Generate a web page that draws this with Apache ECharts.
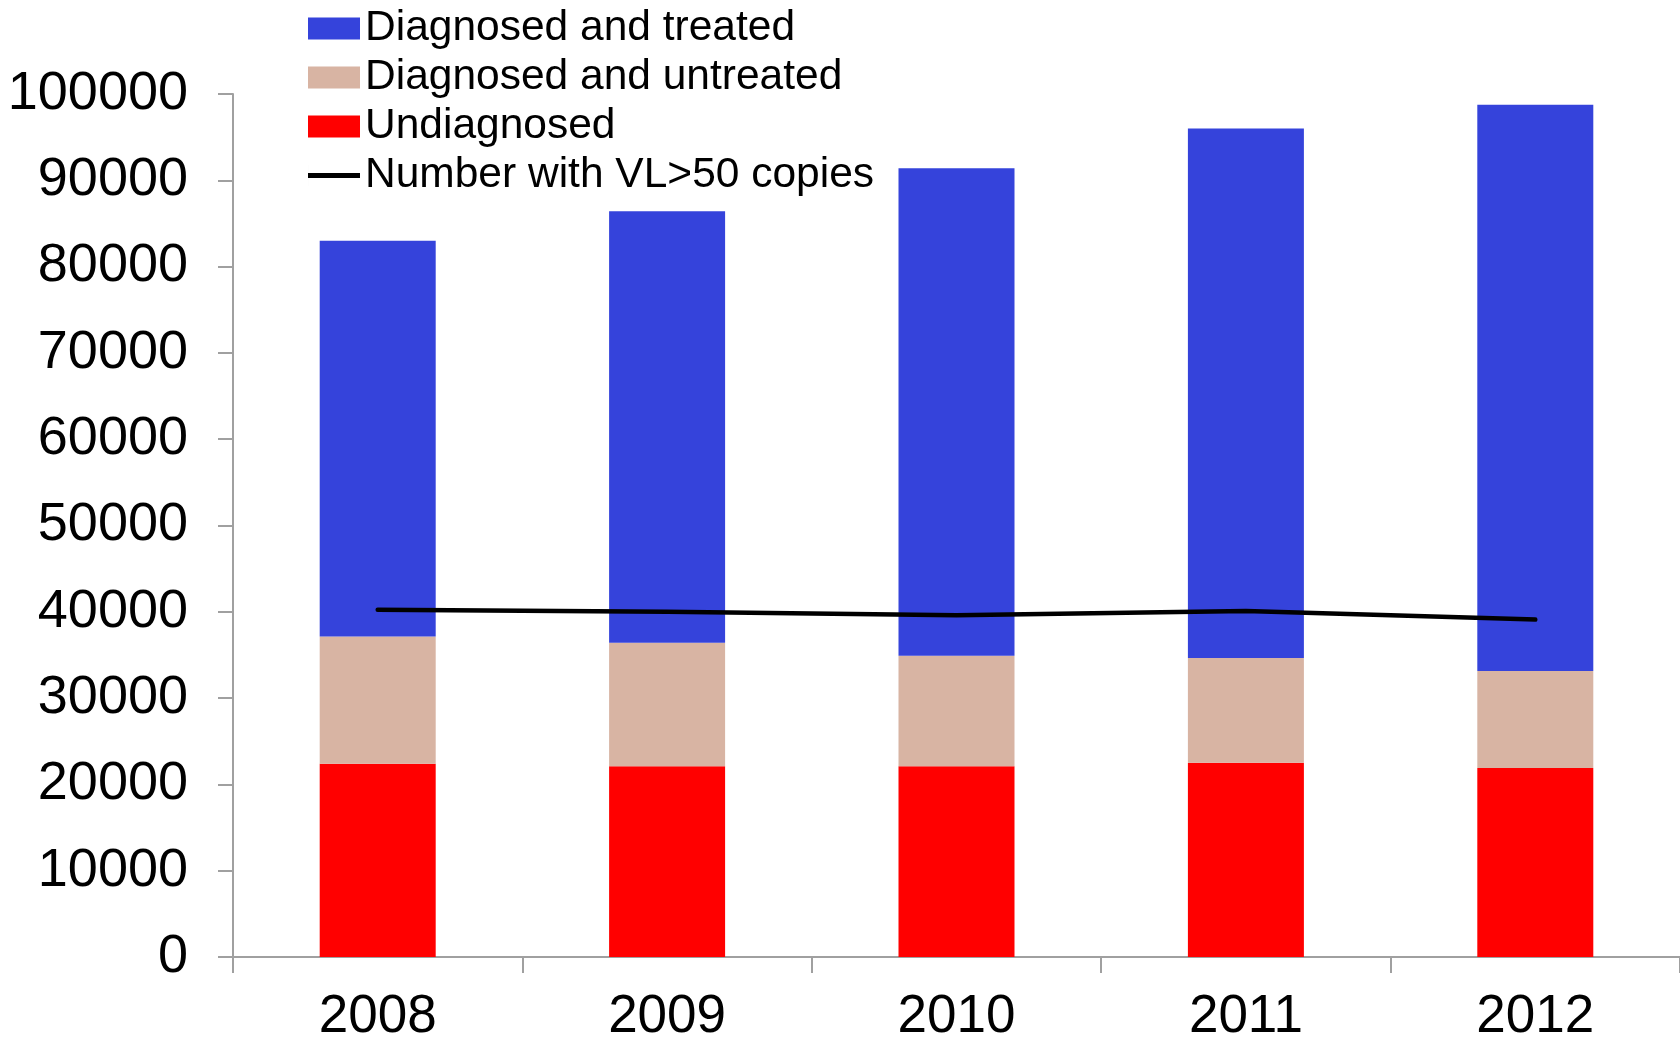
<!DOCTYPE html>
<html>
<head>
<meta charset="utf-8">
<script src="https://cdn.jsdelivr.net/npm/echarts@6/dist/echarts.min.js"></script>
<style>
  html, body { margin: 0; padding: 0; background: #ffffff; }
  #chart { width: 1680px; height: 1042px; }
</style>
</head>
<body>
<div id="chart"></div>
<script>
// People living with HIV, by diagnosis/treatment status
const years = ['2008', '2009', '2010', '2011', '2012'];
const undiagnosed = [22400, 22100, 22100, 22500, 21900];
const diagnosedUntreated = [14750, 14300, 12800, 12150, 11250];
const diagnosedTreated = [45850, 50000, 56500, 61350, 65600];
const vlOver50 = [40250, 40000, 39600, 40100, 39100];

const FONT = '"Liberation Sans", Arial, sans-serif';
const AXIS_GREY = '#a0a0a0';

// Legend key for the line series: a thick horizontal stroke centred in a 52x22 box
// (the hairline at x=0 only fixes the path's bounding box to the full key height).
const LINE_KEY = 'path://M0,0 L0.01,0 L0.01,22 L0,22 Z M0,8.5 L52,8.5 L52,13.5 L0,13.5 Z';

const chart = echarts.init(document.getElementById('chart'), null, { renderer: 'canvas' });

chart.setOption({
  animation: false,
  backgroundColor: '#ffffff',
  textStyle: { fontFamily: FONT },
  grid: { left: 233, right: 0, top: 94, bottom: 85, containLabel: false, outerBoundsMode: 'none' },
  legend: {
    orient: 'vertical',
    left: 308,
    top: 7,
    padding: 0,
    itemWidth: 52,
    itemHeight: 22,
    itemGap: 6,
    textStyle: { fontFamily: FONT, fontSize: 42.5, color: '#000000', lineHeight: 42 },
    data: [
      { name: 'Diagnosed and treated', icon: 'rect' },
      { name: 'Diagnosed and untreated', icon: 'rect' },
      { name: 'Undiagnosed', icon: 'rect' },
      { name: 'Number with VL>50 copies', icon: LINE_KEY, itemStyle: { color: '#000000' } }
    ]
  },
  xAxis: {
    type: 'category',
    data: years,
    boundaryGap: true,
    axisLine: { lineStyle: { color: AXIS_GREY, width: 2 } },
    axisTick: { show: true, length: 16, lineStyle: { color: AXIS_GREY, width: 2 } },
    axisLabel: { fontFamily: FONT, fontSize: 53, color: '#000000', margin: 34 }
  },
  yAxis: {
    type: 'value',
    min: 0,
    max: 100000,
    interval: 10000,
    axisLine: { show: true, lineStyle: { color: AXIS_GREY, width: 2 } },
    axisTick: { show: true, length: 15, lineStyle: { color: AXIS_GREY, width: 2 } },
    splitLine: { show: false },
    axisLabel: {
      fontFamily: FONT, fontSize: 54, color: '#000000', margin: 45,
      formatter: (v) => String(v)
    }
  },
  series: [
    {
      name: 'Undiagnosed',
      type: 'bar',
      stack: 'people',
      barWidth: 116,
      itemStyle: { color: '#ff0000' },
      data: undiagnosed
    },
    {
      name: 'Diagnosed and untreated',
      type: 'bar',
      stack: 'people',
      barWidth: 116,
      itemStyle: { color: '#d8b4a3' },
      data: diagnosedUntreated
    },
    {
      name: 'Diagnosed and treated',
      type: 'bar',
      stack: 'people',
      barWidth: 116,
      itemStyle: { color: '#3543db' },
      data: diagnosedTreated
    },
    {
      name: 'Number with VL>50 copies',
      type: 'line',
      symbol: 'none',
      z: 5,
      lineStyle: { color: '#000000', width: 4.5, cap: 'round', join: 'round' },
      itemStyle: { color: '#000000' },
      data: vlOver50
    }
  ]
});
</script>
</body>
</html>
